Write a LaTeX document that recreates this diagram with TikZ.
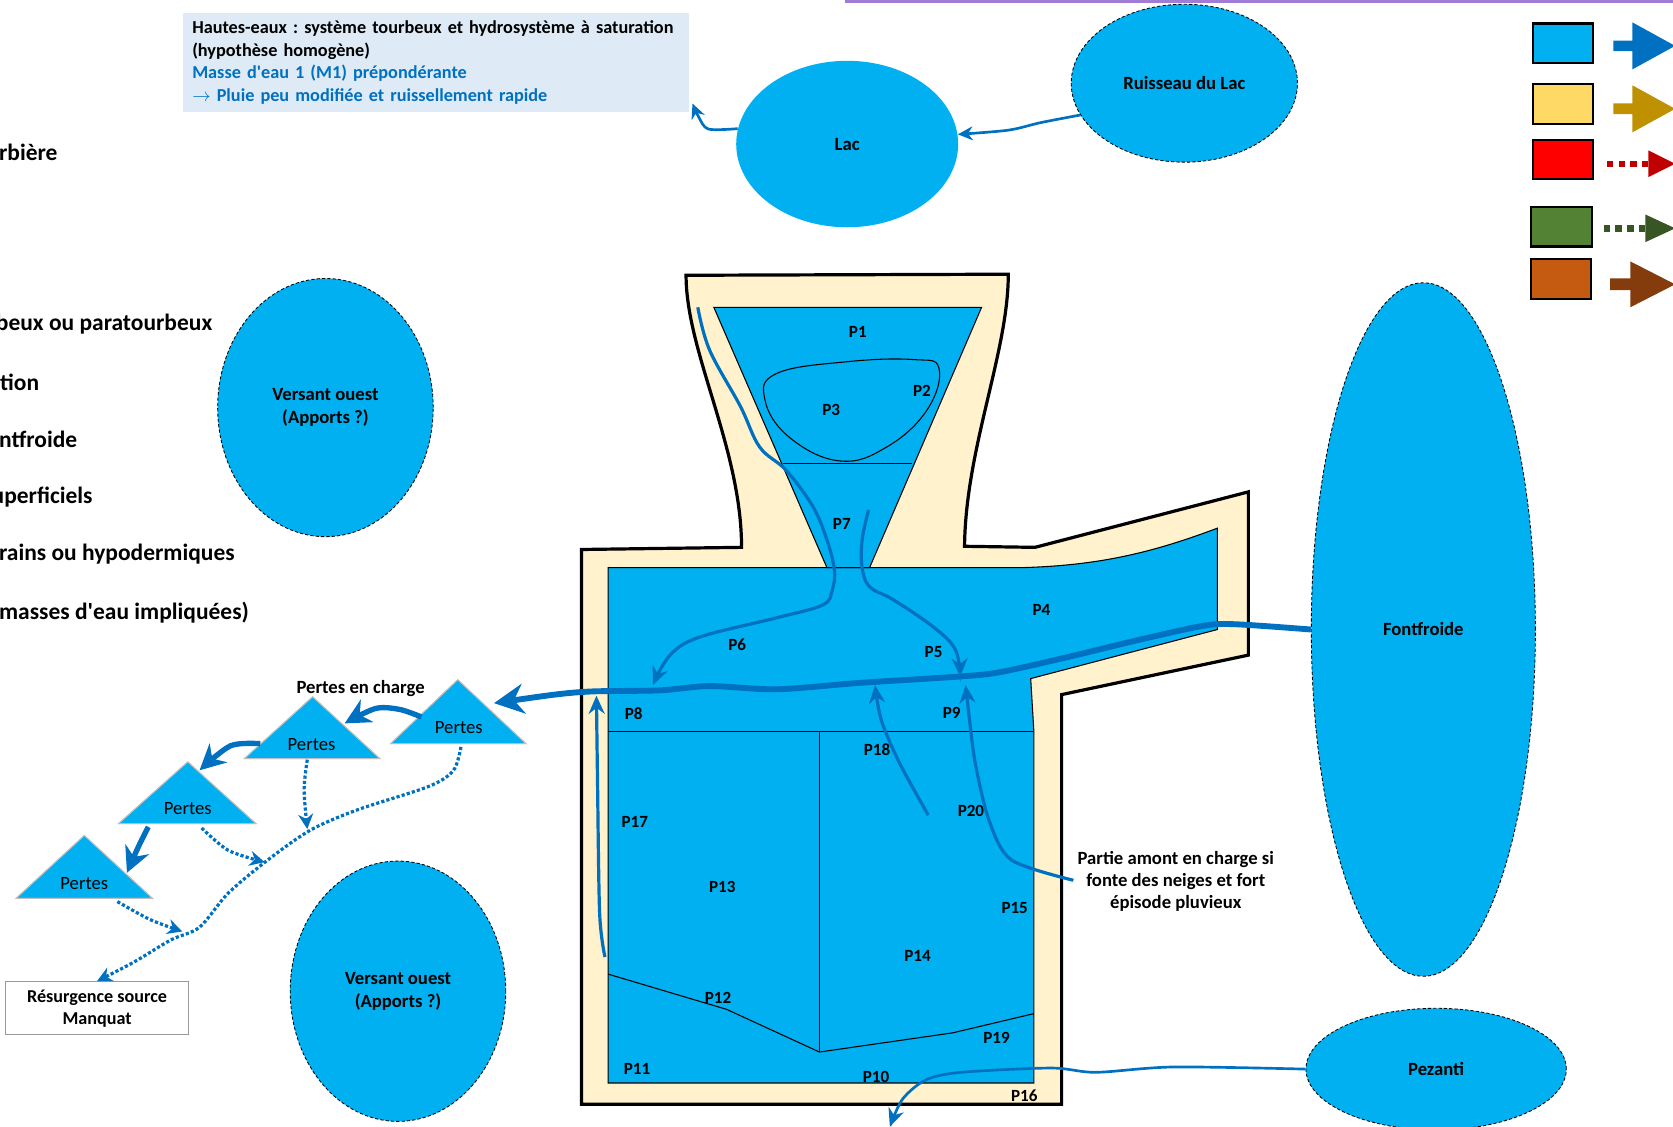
\documentclass[tikz,border=0pt]{standalone}
\usepackage{fontspec}
\setmainfont{Carlito}
\usetikzlibrary{shapes.geometric,arrows.meta,positioning}
\definecolor{eau}{HTML}{00B0F0}
\definecolor{flux}{HTML}{0070C0}
\definecolor{tourbe}{HTML}{FFF2CC}
\definecolor{infofond}{HTML}{DEEBF7}
\definecolor{jaune}{HTML}{FFD966}
\definecolor{jaunefl}{HTML}{BF9000}
\definecolor{rouge}{HTML}{FF0000}
\definecolor{rougefl}{HTML}{C00000}
\definecolor{vert}{HTML}{548235}
\definecolor{vertfl}{HTML}{375623}
\definecolor{brique}{HTML}{C55A11}
\definecolor{briquefl}{HTML}{843C0C}
\definecolor{lavande}{HTML}{A07CD6}
\frenchspacing

\begin{document}
\begin{tikzpicture}[
    x=1pt, y=-1pt,
    lbl/.style={font=\fontsize{16}{20}\selectfont\bfseries, inner sep=0pt},
    legtxt/.style={anchor=west, font=\fontsize{22}{26}\selectfont\bfseries, inner sep=0pt},
    perte/.style={font=\fontsize{17.5}{20}\selectfont, inner sep=0pt},
    masse/.style={ellipse, fill=eau, draw=black, densely dashed, line width=0.8pt, inner sep=0pt, align=center, font=\fontsize{17.5}{21}\selectfont\bfseries},
    zone/.style={fill=eau, draw=black, line width=1pt},
    tri/.style={fill=eau, draw=black!25, line width=0.8pt},
    courant/.style={draw=flux, line width=3pt, -{Stealth[length=17pt,width=15pt]}},
    fort/.style={draw=flux, line width=5.5pt, -{Stealth[length=28pt,width=28pt]}},
    fuite/.style={draw=flux, line width=3pt, dotted, -{Stealth[length=14pt,width=14pt]}},
    leg/.style={line width=2pt},
]
\useasboundingbox (0,0) rectangle (1568,1056);
\clip (0,0) rectangle (1568,1056);

\draw[lavande, line width=3pt] (792,1) -- (1572,1);

% cadre d'information
\node[fill=infofond, anchor=north west, minimum width=475pt, minimum height=93pt, inner xsep=9pt, align=left,
      text width=457pt, font=\fontsize{17.1}{21.3}\selectfont\bfseries] (info) at (171,12)
  {Hautes-eaux : système tourbeux et hydrosystème à saturation\\
   (hypothèse homogène)\\
   \textcolor{flux}{Masse d\textquotesingle eau 1 (M1) prépondérante}\\
   \textcolor{flux}{$\rightarrow$ Pluie peu modifiée et ruissellement rapide}};

% legende (coupee a gauche)
\node[legtxt] (l1) at (-1,143) {rbière};
\node[legtxt] (l2) at (-4,304) {beux ou paratourbeux};
\node[legtxt] (l3) at (0,358) {tion};
\node[legtxt] (l4) at (-1,412) {ntfroide};
\node[legtxt] (l5) at (-8,466) {uperficiels};
\node[legtxt] (l6) at (-1,519) {rains ou hypodermiques};
\node[legtxt] (l7) at (-1,574) {masses d\textquotesingle eau impliquées)};

\draw[leg, fill=eau] (1437,22) rectangle (1493,59);
\draw[leg, fill=jaune] (1437,79) rectangle (1493,116);
\draw[leg, fill=rouge] (1437,131) rectangle (1493,168);
\draw[leg, fill=vert] (1435,194) rectangle (1492,231);
\draw[leg, fill=brique] (1435,243) rectangle (1491,280);
\fill[flux] (1512,38) -- (1530,38) -- (1530,21) -- (1570,43) -- (1530,65) -- (1530,48) -- (1512,48) -- cycle;
\fill[jaunefl] (1512,97) -- (1530,97) -- (1530,80) -- (1570,102) -- (1530,124) -- (1530,107) -- (1512,107) -- cycle;
\draw[rougefl, line width=6pt, dash pattern=on 6pt off 5pt] (1506,153.5) -- (1545,153.5);
\fill[rougefl] (1545,141) -- (1570,153.5) -- (1545,166) -- cycle;
\draw[vertfl, line width=6pt, dash pattern=on 6pt off 5pt] (1503,214) -- (1542,214);
\fill[vertfl] (1542,201) -- (1570,214) -- (1542,227) -- cycle;
\fill[briquefl] (1509,261) -- (1528,261) -- (1528,245) -- (1570,266.5) -- (1528,288) -- (1528,272) -- (1509,272) -- cycle;

% masses d'eau
\node[masse, draw=none, minimum width=208pt, minimum height=156pt] (lac) at (794,135) {Lac};
\node[masse, minimum width=212pt, minimum height=148pt] (ruisseau) at (1110,78) {Ruisseau du Lac};
\node[masse, minimum width=202pt, minimum height=242pt] (versantN) at (305,382) {Versant ouest\\(Apports ?)};
\node[masse, minimum width=202pt, minimum height=244pt] (versantS) at (373,929) {Versant ouest\\(Apports ?)};
\node[masse, minimum width=210pt, minimum height=650pt] (fontfroide) at (1334,590) {Fontfroide};
\node[masse, minimum width=244pt, minimum height=114pt] (pezanti) at (1346,1002) {Pezanti};

\coordinate (infotip) at (649,97);
\draw[courant, line width=2.5pt, -{Stealth[length=14pt,width=13pt]}] plot[smooth] coordinates {(lac.172) (664,121) (655,110) (infotip)};
\draw[courant, line width=2.5pt, -{Stealth[length=14pt,width=13pt]}] plot[smooth] coordinates {(ruisseau.197) (975,115) (945,122) (lac.5)};

% tourbiere
\draw[fill=tourbe, line width=3pt] (643,258) -- (945,257) .. controls (945,330) and (905,420) .. (904,512)
  -- (970,513) -- (1170,461) -- (1170,614) -- (995,651) -- (995,1035) -- (545,1035) -- (545,515)
  -- (695,513) .. controls (695,420) and (643,330) .. (643,258) -- cycle;
\draw[zone] (570,532) -- (958,532) .. controls (1030,530) and (1080,518) .. (1141,495) -- (1141,590)
  -- (966,636) -- (969,686) -- (969,1015) -- (570,1015) -- cycle;
\draw[zone] (669,288) -- (920,288) -- (815,532) -- (775,532) -- cycle;
\draw[line width=1pt] (734,434) -- (855,434);
\draw[line width=1pt] plot[smooth cycle, tension=0.7] coordinates {(728,350) (794,339) (856,337) (880,345) (869,384) (831,419) (787,432) (740,410) (717,375)};
\draw[line width=1pt] (570,686) -- (969,686);
\draw[line width=1pt] (768,686) -- (768,986);
\draw[line width=1pt] (570,913) -- (681,946) -- (768,986) -- (893,968) -- (969,950);

\node[lbl] (p1) at (804,311) {P1};
\node[lbl] (p2) at (864,366) {P2};
\node[lbl] (p3) at (779,384) {P3};
\node[lbl] (p4) at (976,572) {P4};
\node[lbl] (p5) at (875,611) {P5};
\node[lbl] (p6) at (691,604) {P6};
\node[lbl] (p7) at (789,491) {P7};
\node[lbl] (p8) at (594,669) {P8};
\node[lbl] (p9) at (892,668) {P9};
\node[lbl] (p10) at (821,1009) {P10};
\node[lbl] (p11) at (597,1002) {P11};
\node[lbl] (p12) at (673,935) {P12};
\node[lbl] (p13) at (677,831) {P13};
\node[lbl] (p14) at (860,896) {P14};
\node[lbl] (p15) at (951,851) {P15};
\node[lbl] (p16) at (960,1027) {P16};
\node[lbl] (p17) at (595,770) {P17};
\node[lbl] (p18) at (822,703) {P18};
\node[lbl] (p19) at (934,973) {P19};
\node[lbl] (p20) at (910,760) {P20};

\node[lbl, align=center, font=\fontsize{17.5}{21}\selectfont\bfseries] (amont) at (1102,826)
  {Partie amont en charge si\\fonte des neiges et fort\\épisode pluvieux};

% pertes
\fill[tri] (429,637) -- (493,697) -- (366,697) -- cycle;
\fill[tri] (293,653) -- (356,711) -- (229,711) -- cycle;
\fill[tri] (176,714) -- (240,772) -- (111,772) -- cycle;
\fill[tri] (79,783) -- (143,842) -- (15,842) -- cycle;
\draw[draw=black!25, line width=0.8pt] (429,637) -- (493,697) -- (366,697) -- cycle
  (293,653) -- (356,711) -- (229,711) -- cycle
  (176,714) -- (240,772) -- (111,772) -- cycle
  (79,783) -- (143,842) -- (15,842) -- cycle;
\node[perte] (t1) at (430,682) {Pertes};
\node[perte] (t2) at (292,698) {Pertes};
\node[perte] (t3) at (176,758) {Pertes};
\node[perte] (t4) at (79,828) {Pertes};
\node[lbl, font=\fontsize{17.5}{20}\selectfont\bfseries] (charge) at (338,645) {Pertes en charge};

\node[draw=black!40, fill=white, line width=1pt, minimum width=172pt, minimum height=50pt, align=center,
      font=\fontsize{17}{20.5}\selectfont\bfseries] (manquat) at (91,945) {Résurgence source\\Manquat};

% ecoulements
\coordinate (finP6) at (612,642);
\coordinate (finP5) at (900,634);
\coordinate (finT1) at (463,659);
\coordinate (debP17) at (567,897);
\coordinate (finP17) at (559,652);
\coordinate (debP18) at (870,764);
\coordinate (finP18) at (820,642);
\coordinate (debP20) at (1006,825);
\coordinate (finP20) at (905,642);
\coordinate (finPez) at (834,1056);

\draw[courant] plot[smooth, tension=0.6] coordinates {(654,288) (665,328) (694,381) (712,419) (737,441) (762,475) (775,506) (782,534) (780,553) (771,567) (728,579) (656,597) (628,614) (finP6)};
\draw[courant] plot[smooth, tension=0.6] coordinates {(814,478) (808,506) (808,532) (815,550) (837,562) (874,587) (895,608) (finP5)};
\draw[fort] plot[smooth, tension=0.5] coordinates {(fontfroide.west) (1156,585) (1125,587) (1062,601) (1000,616) (937,630) (900,634) (806,640) (728,646) (665,643) (619,647) (556,648) (520,651) (finT1)};
\draw[courant] plot[smooth] coordinates {(debP17) (562,856) (560,731) (finP17)};
\draw[courant] plot[smooth] coordinates {(debP18) (843,715) (826,675) (finP18)};
\draw[courant] plot[smooth] coordinates {(debP20) (948,806) (927,769) (914,715) (908,669) (finP20)};
\draw[courant, line width=2.5pt] plot[smooth, tension=0.5] coordinates {(pezanti.west) (1100,1000) (1027,1005) (985,1001) (901,1005) (868,1012) (846,1030) (finPez)};

\coordinate (t1g) at (395,672);
\coordinate (t2d) at (323,678);
\coordinate (t2g) at (244,697);
\coordinate (t3d) at (187,722);
\coordinate (t3b) at (139,775);
\coordinate (t4h) at (119,818);
\draw[fort, line width=5pt, -{Stealth[length=24pt,width=24pt]}] plot[smooth] coordinates {(t1g) (375,665) (352,664) (t2d)};
\draw[fort, line width=5pt, -{Stealth[length=24pt,width=24pt]}] plot[smooth] coordinates {(t2g) (216,699) (t3d)};
\draw[fort, line width=5pt, -{Stealth[length=24pt,width=24pt]}] plot[smooth] coordinates {(t3b) (130,793) (t4h)};

\draw[fuite] plot[smooth] coordinates {(288,712) (285,740) (288,777)};
\draw[fuite] plot[smooth] coordinates {(189,776) (214,797) (248,808)};
\draw[fuite] plot[smooth] coordinates {(110,845) (141,862) (171,873)};
\draw[fuite] plot[smooth] coordinates {(432,700) (425,722) (402,737) (335,759) (291,778) (251,806) (214,837) (187,869) (160,881) (125,902) (manquat.north)};
\end{tikzpicture}
\end{document}
